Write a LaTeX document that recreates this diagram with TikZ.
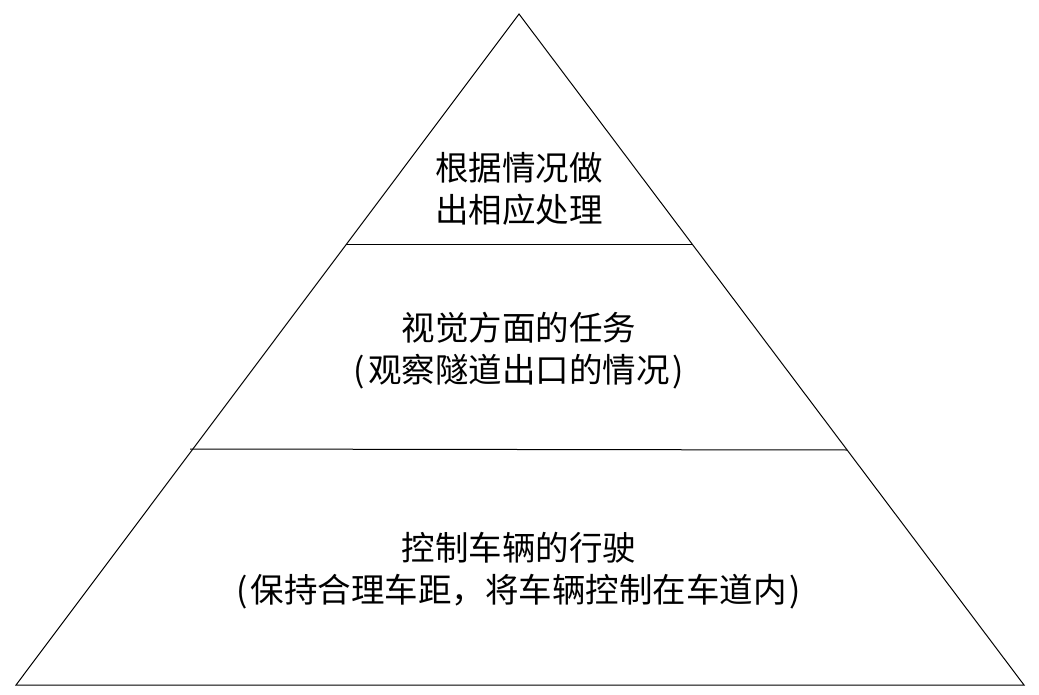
\documentclass[tikz,border=0pt]{standalone}
\usepackage{fontspec}
\newfontfamily\cjk{Noto Sans CJK SC}
\newcommand{\lp}{\kern2pt(\kern3pt}
\newcommand{\rp}{\kern3pt)\kern2pt}
\begin{document}
\begin{tikzpicture}[x=1pt,y=-1pt,
  edge/.style={draw=black,line width=1pt},
  lbl/.style={font=\cjk\fontsize{33.5}{42}\selectfont,align=center,inner sep=0pt,text=black}]
\useasboundingbox (0,0) rectangle (1039,695);
\coordinate (apex) at (519,14);
\coordinate (bl) at (16,685);
\coordinate (br) at (1024,685);
\coordinate (l1) at (346,245);
\coordinate (r1) at (693,245);
\coordinate (l2) at (190,449);
\coordinate (r2) at (847,450);
\draw[edge] (apex) -- (bl) -- (br) -- cycle;
\draw[edge] (l1) -- (r1);
\draw[edge] (l2) -- (r2);
\node[lbl] (t1) at (519,189) {根据情况做\\出相应处理};
\node[lbl] (t2) at (519,351) {视觉方面的任务\\\lp 观察隧道出口的情况\rp};
\node[lbl] (t3) at (519,571) {控制车辆的行驶\\\lp 保持合理车距，将车辆控制在车道内\rp};
\end{tikzpicture}
\end{document}
